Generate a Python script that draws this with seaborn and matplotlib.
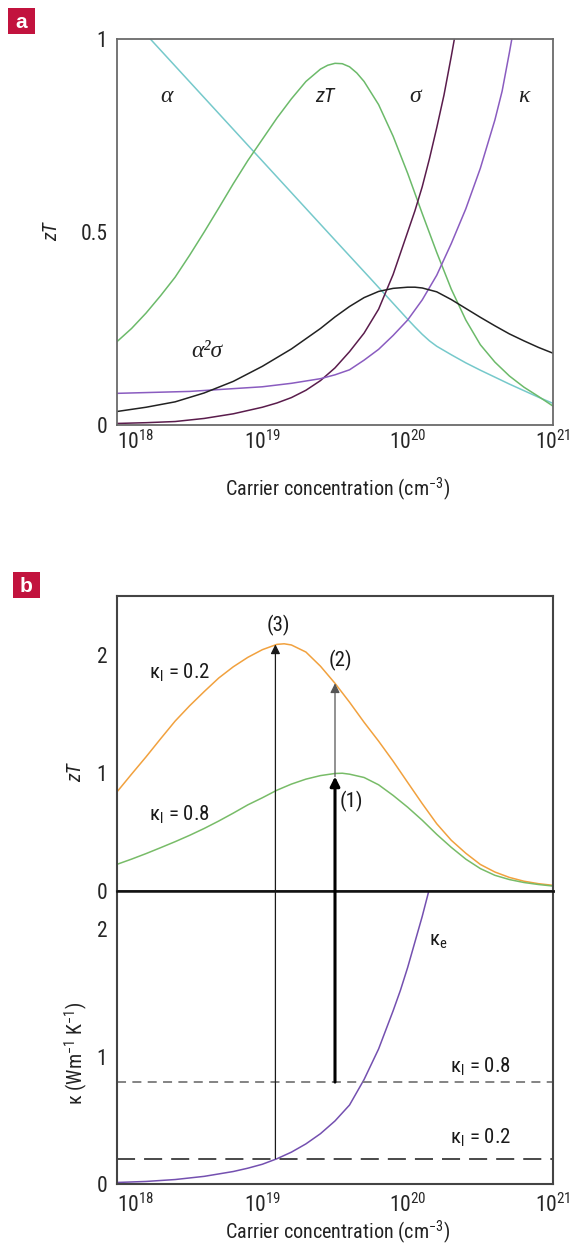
import numpy as np
import matplotlib
matplotlib.use("Agg")
import matplotlib.pyplot as plt
from matplotlib import font_manager
from matplotlib.patches import Rectangle
from matplotlib.ticker import FixedLocator, NullLocator
import seaborn as sns

# ---------------- data (x given as log10 of carrier concentration, cm^-3) ----------------
# panel a
alpha_logn = [18.0, 18.5, 19.0, 19.5, 19.75, 20.0, 20.05, 20.1, 20.15, 20.2, 20.3, 20.4, 20.5,
              20.6, 20.7, 20.8, 20.9, 21.0]
alpha_val = [1.094, 0.889, 0.684, 0.479, 0.377, 0.274, 0.254, 0.235, 0.218, 0.204, 0.182, 0.161, 0.142,
             0.124, 0.106, 0.089, 0.072, 0.056]

zt_a_logn = [18.0, 18.1, 18.2, 18.3, 18.4, 18.5, 18.6, 18.7, 18.8, 18.9, 19.0, 19.1, 19.2, 19.3, 19.4,
             19.45, 19.5, 19.55, 19.6, 19.65, 19.7, 19.8, 19.9, 20.0, 20.1, 20.2, 20.3, 20.4, 20.5,
             20.6, 20.7, 20.8, 20.9, 21.0]
zt_a_val = [0.216, 0.25, 0.29, 0.335, 0.383, 0.44, 0.50, 0.562, 0.625, 0.685, 0.74, 0.795, 0.845, 0.89, 0.922,
            0.932, 0.937, 0.936, 0.928, 0.912, 0.89, 0.83, 0.748, 0.652, 0.548, 0.447, 0.352, 0.272, 0.208,
            0.163, 0.127, 0.098, 0.074, 0.049]

sigma_logn = [18.0, 18.2, 18.4, 18.6, 18.8, 19.0, 19.1, 19.2, 19.3, 19.4, 19.5, 19.6, 19.7, 19.8, 19.9,
              20.0, 20.05, 20.1, 20.15, 20.2, 20.25, 20.3, 20.35]
sigma_val = [0.004, 0.006, 0.009, 0.017, 0.029, 0.046, 0.057, 0.071, 0.09, 0.115, 0.148, 0.19, 0.238, 0.30, 0.39,
             0.50, 0.555, 0.617, 0.69, 0.77, 0.855, 0.955, 1.06]

kappa_logn = [18.0, 18.5, 19.0, 19.2, 19.4, 19.5, 19.6, 19.7, 19.8, 19.9, 20.0, 20.1, 20.2, 20.3, 20.4,
              20.5, 20.6, 20.65, 20.7, 20.75]
kappa_val = [0.082, 0.087, 0.099, 0.108, 0.12, 0.13, 0.143, 0.168, 0.196, 0.232, 0.272, 0.324, 0.388, 0.47, 0.56,
             0.665, 0.79, 0.865, 0.965, 1.07]

pf_logn = [18.0, 18.2, 18.4, 18.6, 18.8, 19.0, 19.2, 19.4, 19.5, 19.6, 19.7, 19.8, 19.9, 20.0, 20.05, 20.1,
           20.2, 20.3, 20.4, 20.5, 20.6, 20.7, 20.8, 20.9, 21.0]
pf_val = [0.035, 0.046, 0.06, 0.083, 0.113, 0.152, 0.197, 0.25, 0.28, 0.307, 0.33, 0.346, 0.354, 0.357, 0.357, 0.355,
          0.345, 0.325, 0.302, 0.279, 0.257, 0.236, 0.218, 0.201, 0.186]

# panel b, top: zT for two lattice conductivities
zt_low_logn = [18.0, 18.1, 18.2, 18.3, 18.4, 18.5, 18.6, 18.7, 18.8, 18.9, 19.0, 19.1, 19.15, 19.2, 19.3,
               19.4, 19.5, 19.6, 19.7, 19.8, 19.9, 20.0, 20.1, 20.2, 20.3, 20.4, 20.5, 20.6, 20.7, 20.8,
               20.9, 21.0]
zt_low_val = [0.84, 0.99, 1.137, 1.29, 1.44, 1.57, 1.69, 1.805, 1.90, 1.98, 2.045, 2.09, 2.095, 2.085, 2.025,
              1.905, 1.76, 1.60, 1.43, 1.27, 1.10, 0.92, 0.741, 0.57, 0.43, 0.32, 0.225, 0.161, 0.115, 0.083,
              0.062, 0.048]

zt_high_logn = [18.0, 18.1, 18.2, 18.3, 18.4, 18.5, 18.6, 18.7, 18.8, 18.9, 19.0, 19.1, 19.2, 19.3, 19.4,
                19.5, 19.55, 19.6, 19.7, 19.8, 19.9, 20.0, 20.1, 20.2, 20.3, 20.4, 20.5, 20.6, 20.7, 20.8,
                20.9, 21.0]
zt_high_val = [0.226, 0.27, 0.317, 0.367, 0.418, 0.472, 0.53, 0.593, 0.66, 0.73, 0.79, 0.854, 0.906, 0.948, 0.978,
               0.996, 0.998, 0.99, 0.962, 0.90, 0.81, 0.71, 0.60, 0.48, 0.37, 0.27, 0.19, 0.133, 0.097, 0.072,
               0.055, 0.042]

# panel b, bottom: electronic thermal conductivity and lattice values
kappa_e_logn = [18.0, 18.2, 18.4, 18.6, 18.8, 18.9, 19.0, 19.1, 19.2, 19.3, 19.4, 19.5, 19.6, 19.7, 19.8,
                19.9, 19.95, 20.0, 20.05, 20.1, 20.15, 20.2]
kappa_e_val = [0.012, 0.02, 0.035, 0.06, 0.098, 0.124, 0.155, 0.198, 0.25, 0.315, 0.395, 0.495, 0.62, 0.82, 1.06,
               1.36, 1.52, 1.70, 1.90, 2.10, 2.32, 2.55]
kappa_l_levels = [0.8, 0.2]

# vertical arrows: (log n, start, end)
arrow3 = (19.09, 0.2, 2.09)
arrow1 = (19.5, 0.8, 0.97)
arrow2 = (19.5, 0.97, 1.76)

x_tick_exp = [18, 19, 20, 21]

# ---------------- style ----------------
sns.set_theme(style="white")
names = {f.name for f in font_manager.fontManager.ttflist}
SANS = "Liberation Sans"
for cand in ("Liberation Sans Narrow", "Roboto Condensed", "Open Sans Condensed", "Arial Narrow"):
    if cand in names:
        SANS = cand
        break
NARROW = SANS != "Liberation Sans"
plt.rcParams["font.family"] = [SANS, "DejaVu Sans"]
plt.rcParams["mathtext.fontset"] = "custom"
plt.rcParams["mathtext.rm"] = SANS
plt.rcParams["mathtext.it"] = SANS + ":italic"
plt.rcParams["mathtext.sf"] = SANS

if NARROW:
    TICK_FS, LAB_FS, ANN_FS, GRK_FS = 15.5, 14.5, 15, 17
else:
    TICK_FS, LAB_FS, ANN_FS, GRK_FS = 13.5, 13, 13.5, 16

W, H = 576, 1248
fig = plt.figure(figsize=(W / 100, H / 100), dpi=100)


def fx(px):
    return px / W


def fy(py):
    return 1 - py / H


L, R = 117, 553
ax_a = fig.add_axes([fx(L), fy(425), (R - L) / W, (425 - 39) / H])
ax_t = fig.add_axes([fx(L), fy(891), (R - L) / W, (891 - 596) / H])
ax_b = fig.add_axes([fx(L), fy(1184), (R - L) / W, (1184 - 891) / H])

LW = 1.1


def curve(ax, logn, val, color, lw=LW):
    sns.lineplot(x=np.power(10.0, logn), y=val, ax=ax, color=color, linewidth=lw,
                 estimator=None, sort=False, legend=False)


def set_log_xticks(ax):
    ax.xaxis.set_major_locator(FixedLocator([10.0 ** e for e in x_tick_exp]))
    ax.xaxis.set_minor_locator(NullLocator())
    labels = ax.set_xticklabels([r"$\mathregular{10^{%d}}$" % e for e in x_tick_exp], fontsize=TICK_FS)
    labels[0].set_ha("left")


# ---------------- panel a ----------------
curve(ax_a, alpha_logn, alpha_val, "#76c9cb")
curve(ax_a, zt_a_logn, zt_a_val, "#6cba6a")
curve(ax_a, sigma_logn, sigma_val, "#5a1c4c")
curve(ax_a, kappa_logn, kappa_val, "#8a5cc0")
curve(ax_a, pf_logn, pf_val, "#222222")

ax_a.set_xscale("log")
ax_a.set_xlim(1e18, 1e21)
ax_a.set_ylim(0, 1)
set_log_xticks(ax_a)
ax_a.set_yticks([0, 0.5, 1])
ax_a.set_yticklabels(["0", "0.5", "1"], fontsize=TICK_FS)
ax_a.tick_params(axis="x", direction="in", length=15, width=1.0, color="#333333", pad=4)
ax_a.tick_params(axis="y", direction="in", length=6, width=1.0, color="#555555", pad=7)
for s in ax_a.spines.values():
    s.set_color("#6a6a6a")
    s.set_linewidth(1.3)
ax_a.set_xlabel("")
ax_a.set_ylabel("")

serif_it = dict(family=["Liberation Serif", "DejaVu Serif"], style="italic", fontsize=GRK_FS,
                ha="center", va="center", color="#222222")
ax_a.text(10 ** 18.34, 0.85, "α", **serif_it)
ax_a.text(10 ** 19.43, 0.85, "zT", style="italic", fontsize=ANN_FS,
          ha="center", va="center", color="#222222")
ax_a.text(10 ** 20.05, 0.85, "σ", **serif_it)
ax_a.text(10 ** 20.80, 0.85, "κ", **serif_it)
ax_a.text(10 ** 18.62, 0.19, "α²σ", **serif_it)

fig.text(fx(52), fy(232), "zT", rotation=90, style="italic", fontsize=LAB_FS,
         ha="center", va="center", color="#222222")
fig.text(fx(337), fy(489), "Carrier concentration (cm$^{\\mathregular{-3}}$)", fontsize=LAB_FS,
         ha="center", va="center", color="#222222")

# ---------------- panel b, top ----------------
curve(ax_t, zt_low_logn, zt_low_val, "#f1a13e")
curve(ax_t, zt_high_logn, zt_high_val, "#78bc68")
ax_t.set_xscale("log")
ax_t.set_xlim(1e18, 1e21)
ax_t.set_ylim(0, 2.5)
ax_t.xaxis.set_major_locator(NullLocator())
ax_t.xaxis.set_minor_locator(NullLocator())
ax_t.set_yticks([0, 1, 2])
ax_t.set_yticklabels(["0", "1", "2"], fontsize=TICK_FS)
ax_t.set_yticks([0.5, 1.5], minor=True)
ax_t.tick_params(axis="y", which="major", direction="in", length=6, width=1.2, color="#333333", pad=7)
ax_t.tick_params(axis="y", which="minor", direction="in", length=3, width=1.0, color="#555555")
ax_t.set_xlabel("")
ax_t.set_ylabel("")

ann = dict(fontsize=ANN_FS, ha="center", va="center", color="#1a1a1a")
ax_t.text(10 ** 18.43, 1.85, "κ$_{\\mathregular{l}}$ = 0.2", **ann)
ax_t.text(10 ** 18.43, 0.645, "κ$_{\\mathregular{l}}$ = 0.8", **ann)
ax_t.text(10 ** 19.11, 2.25, "(3)", **ann)
ax_t.text(10 ** 19.54, 1.95, "(2)", **ann)
ax_t.text(10 ** 19.61, 0.76, "(1)", **ann)

fig.text(fx(76), fy(773), "zT", rotation=90, style="italic", fontsize=LAB_FS,
         ha="center", va="center", color="#222222")

# ---------------- panel b, bottom ----------------
curve(ax_b, kappa_e_logn, kappa_e_val, "#7450b0")
ax_b.axhline(kappa_l_levels[0], color="#7a7a7a", lw=1.3, linestyle=(0, (5, 3.5)))
ax_b.axhline(kappa_l_levels[1], color="#3a3a3a", lw=1.3, linestyle=(0, (10, 5)))
ax_b.set_xscale("log")
ax_b.set_xlim(1e18, 1e21)
ax_b.set_ylim(0, 2.3)
set_log_xticks(ax_b)
ax_b.set_yticks([0, 1, 2])
ax_b.set_yticklabels(["0", "1", "2"], fontsize=TICK_FS)
ax_b.set_yticks([0.5, 1.5], minor=True)
ax_b.tick_params(axis="x", direction="in", length=5, width=1.2, color="#333333", pad=7)
ax_b.tick_params(axis="y", which="major", direction="in", length=6, width=1.2, color="#333333", pad=7)
ax_b.tick_params(axis="y", which="minor", direction="in", length=3, width=1.0, color="#555555")
ax_b.set_xlabel("")
ax_b.set_ylabel("")

ax_b.text(10 ** 20.21, 1.90, "κ$_{\\mathregular{e}}$", **ann)
ax_b.text(10 ** 20.50, 0.92, "κ$_{\\mathregular{l}}$ = 0.8", **ann)
ax_b.text(10 ** 20.50, 0.36, "κ$_{\\mathregular{l}}$ = 0.2", **ann)

fig.text(fx(76), fy(1053), "κ (Wm$^{\\mathregular{-1}}$ K$^{\\mathregular{-1}}$)", rotation=90,
         fontsize=LAB_FS, ha="center", va="center", color="#222222")
fig.text(fx(337), fy(1232), "Carrier concentration (cm$^{\\mathregular{-3}}$)", fontsize=LAB_FS,
         ha="center", va="center", color="#222222")

for ax in (ax_t, ax_b):
    for s in ax.spines.values():
        s.set_color("#444444")
        s.set_linewidth(1.5)
ax_t.spines["bottom"].set_color("#111111")
ax_t.spines["bottom"].set_linewidth(1.8)
ax_b.spines["top"].set_color("#111111")
ax_b.spines["top"].set_linewidth(1.8)

# vertical arrows crossing from the conductivity panel into the zT panel
for (lg, y0, y1), lw, col in ((arrow3, 0.9, "#1a1a1a"), (arrow1, 2.2, "#000000")):
    ax_b.annotate("", xy=(10 ** lg, y1), xycoords=ax_t.transData,
                  xytext=(10 ** lg, y0), textcoords=ax_b.transData,
                  arrowprops=dict(arrowstyle="-|>", color=col, lw=lw, mutation_scale=14,
                                  shrinkA=0, shrinkB=0), annotation_clip=False)
lg, y0, y1 = arrow2
ax_t.annotate("", xy=(10 ** lg, y1), xytext=(10 ** lg, y0),
              arrowprops=dict(arrowstyle="-|>", color="#555555", lw=0.9, mutation_scale=14,
                              shrinkA=0, shrinkB=0), annotation_clip=False)

# panel letters
for (x0, y0, w, h), letter in (((8, 8, 27, 26), "a"), ((13, 572, 27, 26), "b")):
    fig.patches.append(Rectangle((fx(x0), fy(y0 + h)), w / W, h / H, transform=fig.transFigure,
                                 facecolor="#c2133e", edgecolor="none"))
    fig.text(fx(x0 + w / 2), fy(y0 + h / 2 + 1), letter, color="white", fontweight="bold",
             fontsize=15 if NARROW else 13, ha="center", va="center",
             family=["Liberation Sans", "DejaVu Sans"])

fig.savefig("out.png", dpi=100)
